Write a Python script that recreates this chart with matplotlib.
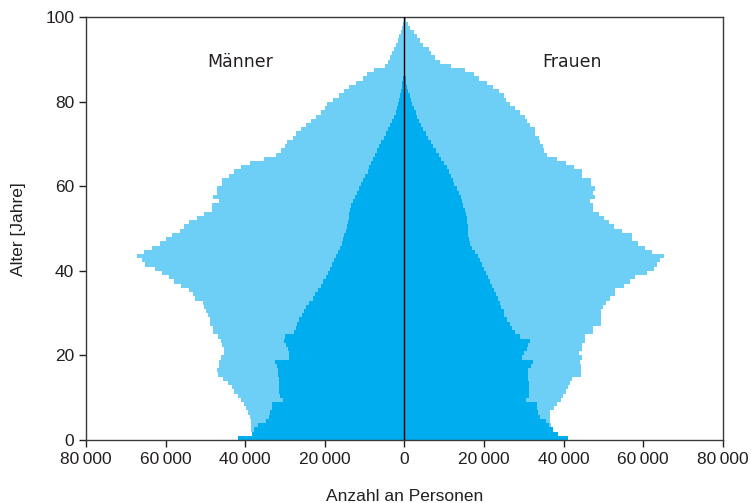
import matplotlib
matplotlib.use("Agg")
import matplotlib.pyplot as plt
from matplotlib import font_manager

# fonts: narrow sans if present, DejaVu as fallback for the thin space
names = {f.name for f in font_manager.fontManager.ttflist}
FONT = "Liberation Sans Narrow" if "Liberation Sans Narrow" in names else "Liberation Sans"
plt.rcParams["font.family"] = [FONT, "DejaVu Sans"]

LIGHT = "#6DCFF6"
DARK = "#00AEEF"
INK = "#231F20"

ages = list(range(100))

# outer (light) series, persons per age year
men_light = [38000, 38300, 38500, 38500, 38600, 38800, 39300, 39800, 40300, 41100,
             41900, 42700, 43300, 44300, 45500, 46800, 47000, 46500, 46500, 46200,
             45400, 45400, 45900, 46000, 46800, 48000, 48000, 48900, 48900, 49300,
             49900, 50300, 50600, 52600, 53000, 54000, 56200, 57800, 59200, 61000,
             62700, 65100, 66000, 67300, 65500, 63300, 61300, 59800, 58400, 56500,
             55500, 54000, 52200, 50300, 48400, 48400, 46700, 48000, 47200, 47200,
             45900, 45900, 44000, 42900, 41100, 38700, 35400, 32300, 31000, 30000,
             29600, 28100, 27300, 26000, 24800, 23500, 22200, 21000, 19900, 19500,
             17900, 16400, 15100, 13900, 12200, 10500, 9300, 7600, 5000, 4200,
             3500, 3000, 2500, 2100, 1700, 1300, 900, 600, 450, 200]
women_light = [39000, 38000, 37000, 36800, 36500, 36600, 36600, 37500, 38400, 39400,
               39800, 40600, 41200, 41700, 42000, 44300, 44400, 44400, 44000, 44600,
               43800, 44600, 44600, 45400, 45400, 47500, 47500, 49400, 49400, 49400,
               49400, 50000, 50700, 51700, 53000, 53000, 55100, 56800, 58000, 60900,
               62600, 63500, 64300, 65300, 62200, 60400, 58800, 57200, 57200, 54700,
               52600, 51300, 50100, 48800, 47500, 47500, 46700, 48000, 47500, 48000,
               47000, 47000, 44600, 44600, 42500, 40700, 38300, 35800, 35000, 34900,
               34000, 33700, 32900, 32700, 31600, 30800, 30200, 29100, 27900, 26600,
               25500, 24900, 23700, 22200, 20700, 18800, 17600, 15300, 11600, 9000,
               7800, 6700, 6100, 4600, 4000, 3100, 2300, 1500, 1000, 400]

# inner (dark) series
men_dark = [41700, 38200, 37700, 36800, 34800, 34100, 33700, 33300, 33200, 30600,
            31200, 31400, 31500, 31600, 31600, 31700, 31700, 31900, 32500, 29000,
            28900, 29300, 29800, 30200, 29900, 27800, 27300, 26900, 26500, 25800,
            25200, 24800, 24000, 23000, 22400, 21700, 21000, 20400, 19800, 19200,
            18600, 18100, 17600, 17100, 16600, 16100, 15700, 15400, 15100, 14800,
            14500, 14200, 14000, 13800, 13600, 13400, 13000, 12500, 12000, 11400,
            10900, 10300, 9800, 9200, 8800, 8400, 8000, 7500, 7000, 6400,
            5800, 5200, 4700, 4100, 3500, 3000, 2600, 2200, 1900, 1600,
            1300, 1050, 850, 650, 500, 350, 200, 0, 0, 0,
            0, 0, 0, 0, 0, 0, 0, 0, 0, 0]
women_dark = [41200, 38500, 37300, 36400, 35600, 34000, 33600, 33400, 33200, 30600,
              31200, 31400, 31400, 31300, 31100, 31000, 31000, 31800, 32400, 29500,
              30000, 30800, 31000, 31600, 29100, 27800, 27000, 26600, 25800, 25000,
              24900, 24200, 24000, 23500, 23100, 22600, 22000, 21600, 21100, 20500,
              20000, 19400, 18900, 18500, 17800, 17000, 16600, 16300, 16100, 16000,
              15900, 15800, 15600, 15400, 15100, 14800, 14500, 14100, 13700, 13100,
              12500, 12100, 11600, 11100, 10600, 10000, 9300, 8700, 8000, 7300,
              6600, 5900, 5300, 4700, 4200, 3700, 3200, 2800, 2300, 1900,
              1600, 1300, 1000, 750, 500, 300, 100, 0, 0, 0,
              0, 0, 0, 0, 0, 0, 0, 0, 0, 0]

xticks = [-80000, -60000, -40000, -20000, 0, 20000, 40000, 60000, 80000]
yticks = [0, 20, 40, 60, 80, 100]

fig = plt.figure(figsize=(7.51, 5.03), dpi=100)
ax = fig.add_axes([0.1145, 0.1252, 0.848, 0.8404])

ax.barh(ages, [-v for v in men_light], height=1, align="edge", color=LIGHT, lw=0)
ax.barh(ages, women_light, height=1, align="edge", color=LIGHT, lw=0)
ax.barh(ages, [-v for v in men_dark], height=1, align="edge", color=DARK, lw=0)
ax.barh(ages, women_dark, height=1, align="edge", color=DARK, lw=0)
ax.axvline(0, color="black", lw=1.0, zorder=3)

ax.set_xlim(-80000, 80000)
ax.set_ylim(0, 100)
ax.set_xticks(xticks)
ax.set_xticklabels([f"{abs(v):,}".replace(",", "\u2009") for v in xticks])
ax.set_yticks(yticks)
ax.tick_params(labelsize=12.5, colors=INK, length=5, width=1.0, direction="out")
for s in ax.spines.values():
    s.set_color("#3A3A3A")
    s.set_linewidth(1.0)

ax.text(-41300, 89.4, "Männer", ha="center", va="center", fontsize=12.5, color=INK,
        family="DejaVu Sans")
ax.text(42100, 89.4, "Frauen", ha="center", va="center", fontsize=12.5, color=INK,
        family="DejaVu Sans")

ax.set_ylabel("Alter [Jahre]", fontsize=12.5, color=INK, labelpad=14)
ax.set_xlabel("Anzahl an Personen", fontsize=12.5, color=INK, labelpad=16)

fig.savefig("out.png", dpi=100)
